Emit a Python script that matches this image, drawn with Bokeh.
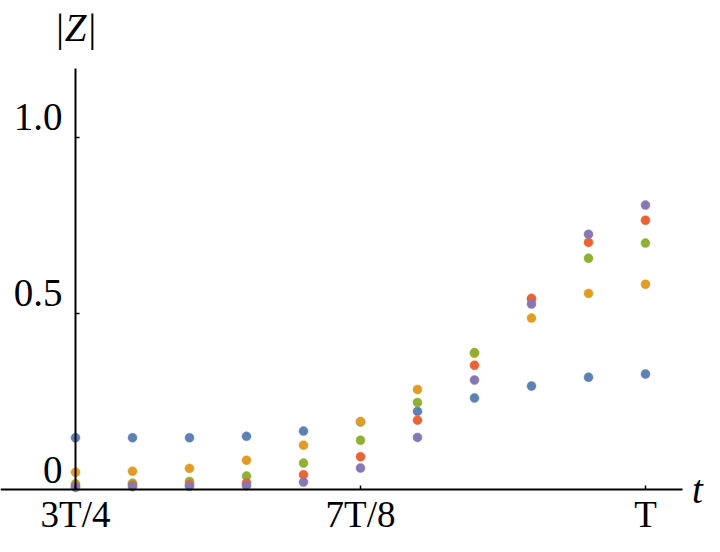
from bokeh.plotting import figure
from bokeh.models import LinearAxis, FixedTicker, Label, Range1d, ColumnDataSource
from bokeh.embed import file_html
from bokeh.resources import INLINE
from bokeh.core.properties import value

# ---- data ----
t_vals = [0.75, 0.775, 0.8, 0.825, 0.85, 0.875, 0.9, 0.925, 0.95, 0.975, 1.0]
series_blue = [0.147, 0.147, 0.147, 0.151, 0.166, 0.192, 0.222, 0.260, 0.294, 0.319, 0.328]
series_orange = [0.049, 0.052, 0.060, 0.083, 0.126, 0.193, 0.284, 0.387, 0.487, 0.557, 0.583]
series_green = [0.016, 0.018, 0.023, 0.038, 0.075, 0.140, 0.247, 0.389, 0.540, 0.657, 0.700]
series_red = [0.010, 0.012, 0.014, 0.019, 0.042, 0.093, 0.197, 0.353, 0.543, 0.702, 0.765]
series_purple = [0.006, 0.008, 0.009, 0.011, 0.021, 0.061, 0.148, 0.311, 0.527, 0.725, 0.808]

x_ticks = [0.75, 0.875, 1.0]
x_tick_labels = ["3T/4", "7T/8", "T"]
y_ticks = [0.0, 0.5, 1.0]
y_tick_labels = ["0", "0.5", "1.0"]

colors = ["#5E81B5", "#E19C24", "#8FB032", "#EB6235", "#8778B3"]
FONT = "Liberation Serif"

X_AXIS_BOUNDS = (0.717105, 1.016228)
Y_AXIS_BOUNDS = (0.0, 1.196)

p = figure(width=704, height=536, output_backend="svg", toolbar_location=None,
           x_range=Range1d(0.717105, 1.025877), y_range=Range1d(-0.13352, 1.38920),
           x_axis_type=None, y_axis_type=None,
           min_border_left=0, min_border_right=0, min_border_top=0, min_border_bottom=0)
p.outline_line_color = None
p.grid.visible = False
p.background_fill_color = "white"
p.border_fill_color = "white"

# axes crossing at (3T/4, 0)
xaxis = LinearAxis(fixed_location=0.0, ticker=FixedTicker(ticks=x_ticks), bounds=X_AXIS_BOUNDS,
                   major_label_overrides={t: s for t, s in zip(x_ticks, x_tick_labels)})
xaxis.axis_line_width = 2
xaxis.axis_line_color = "black"
xaxis.major_tick_in = 4
xaxis.major_tick_out = 0
xaxis.major_tick_line_width = 1.5
xaxis.minor_tick_line_color = None
xaxis.major_label_standoff = 4
xaxis.major_label_text_font = FONT
xaxis.major_label_text_font_size = "37px"
xaxis.major_label_text_color = "black"
p.add_layout(xaxis, "below")

yaxis = LinearAxis(fixed_location=0.75, ticker=FixedTicker(ticks=[0.5, 1.0]), bounds=Y_AXIS_BOUNDS)
yaxis.axis_line_width = 2
yaxis.axis_line_color = "black"
yaxis.major_tick_in = 4
yaxis.major_tick_out = 0
yaxis.major_tick_line_width = 1.5
yaxis.minor_tick_line_color = None
yaxis.major_label_text_color = None
p.add_layout(yaxis, "left")

# y tick labels, raised above their ticks as in the reference
ysrc = ColumnDataSource(dict(x=[0.75] * len(y_ticks), y=y_ticks, text=y_tick_labels))
p.text(x="x", y="y", text="text", source=ysrc, x_offset=-13, y_offset=-20,
       text_align="right", text_baseline="middle", text_font=value(FONT),
       text_font_size="39px", text_color="black")

for ys, c in zip([series_blue, series_orange, series_green, series_red, series_purple], colors):
    p.scatter(t_vals, ys, size=9, fill_color=c, line_color=c, line_width=0.5)

p.add_layout(Label(x=1.0228, y=0.0, text="t", text_font=FONT, text_font_style="italic",
                   text_font_size="39px", text_align="center", text_baseline="middle",
                   text_color="black"))
p.add_layout(Label(x=0.75, y=1.3125, text="|Z|", text_font=FONT, text_font_style="italic",
                   text_font_size="39px", text_align="center", text_baseline="middle",
                   text_color="black"))

open("out.html", "w").write(file_html(p, INLINE))
